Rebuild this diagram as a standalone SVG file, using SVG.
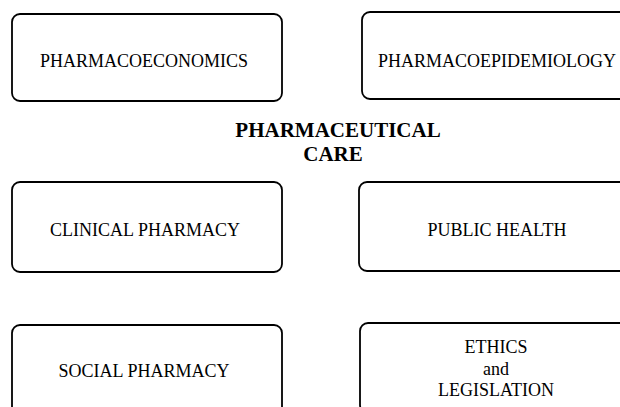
<svg xmlns="http://www.w3.org/2000/svg" width="620" height="407" viewBox="0 0 620 407">
  <style>
    .box { fill: #ffffff; stroke: #000000; stroke-width: 1.8; }
    .lbl { font-family: "Liberation Serif", "Times New Roman", serif; font-size: 18px; fill: #000000; text-anchor: middle; }
    .title { font-family: "Liberation Serif", "Times New Roman", serif; font-size: 21px; font-weight: bold; fill: #000000; text-anchor: middle; }
  </style>
  <rect width="620" height="407" fill="#ffffff"/>

  <g id="connectors"></g>

  <g id="pharmacoeconomics">
    <rect class="box" x="12" y="14" width="270" height="87" rx="8"/>
    <text class="lbl" x="144" y="67">PHARMACOECONOMICS</text>
  </g>

  <g id="pharmacoepidemiology">
    <rect class="box" x="362" y="12" width="270" height="87" rx="8"/>
    <text class="lbl" x="497" y="67">PHARMACOEPIDEMIOLOGY</text>
  </g>

  <g id="pharmaceutical-care">
    <text class="title" x="338" y="137">PHARMACEUTICAL</text>
    <text class="title" x="333" y="161">CARE</text>
  </g>

  <g id="clinical-pharmacy">
    <rect class="box" x="12" y="182" width="270" height="90" rx="8"/>
    <text class="lbl" x="145" y="236">CLINICAL PHARMACY</text>
  </g>

  <g id="public-health">
    <rect class="box" x="359" y="182" width="270" height="89" rx="8"/>
    <text class="lbl" x="497" y="236">PUBLIC HEALTH</text>
  </g>

  <g id="social-pharmacy">
    <rect class="box" x="12" y="325" width="270" height="90" rx="8"/>
    <text class="lbl" x="144" y="377">SOCIAL PHARMACY</text>
  </g>

  <g id="ethics-legislation">
    <rect class="box" x="360" y="323" width="270" height="90" rx="8"/>
    <text class="lbl" x="496" y="353">ETHICS</text>
    <text class="lbl" x="496" y="375">and</text>
    <text class="lbl" x="496" y="396">LEGISLATION</text>
  </g>
</svg>
